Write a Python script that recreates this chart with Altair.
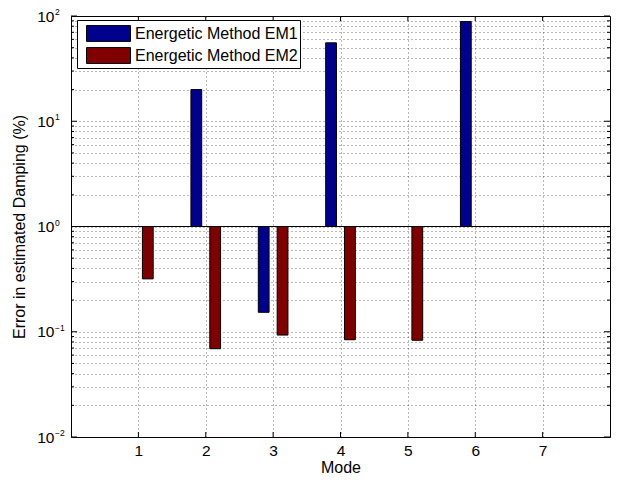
import altair as alt
import pandas as pd
import math

# ---------------- data ----------------
modes = [1, 2, 3, 4, 5, 6, 7]
em1 = [None, 20.0, 0.153, 55.6, None, 88.5, None]
em2 = [0.318, 0.069, 0.093, 0.084, 0.083, None, None]
series_names = ["Energetic Method EM1", "Energetic Method EM2"]
series_colors = ["#00008F", "#800000"]
decades = [-2, -1, 0, 1, 2]
exp_labels = ["\u22122", "\u22121", "0", "1", "2"]
mode_ticks = [1, 2, 3, 4, 5, 6, 7]

rows = []
for name, vals in zip(series_names, [em1, em2]):
    for m, v in zip(modes, vals):
        if v is not None:
            rows.append({"mode": m, "series": name, "value": v})
bars_df = pd.DataFrame(rows)

ygrid_vals = [round(k * 10.0 ** e, 6) for e in decades[:-1] for k in range(1, 10)] + [100.0]
ytick_df = pd.DataFrame({"v": ygrid_vals,
                         "major": [abs(v - 10 ** round(math.log10(v))) < 1e-9 for v in ygrid_vals]})
exp_df = pd.DataFrame({"v": [10.0 ** e for e in decades], "t": exp_labels})
xtick_df = pd.DataFrame({"m": mode_ticks})
base_df = pd.DataFrame({"b": [1.0]})

W, H = 539, 421
FONT = "Liberation Sans"
FS = 15.5
TFS = 16

xscale = alt.Scale(domain=[0, 8], nice=False, zero=False)
yscale = alt.Scale(type="log", domain=[0.01, 100], nice=False)

rect_path = "M-2,-0.72L2,-0.72L2,0.72L-2,0.72Z"

bars = alt.Chart(bars_df).transform_calculate(
    x0="datum.mode + (datum.series == 'Energetic Method EM1' ? -0.22 : 0.06)",
    x1="datum.mode + (datum.series == 'Energetic Method EM1' ? -0.06 : 0.22)",
    base="1",
).mark_rect(stroke="black", strokeWidth=1).encode(
    x=alt.X("x0:Q", scale=xscale,
            axis=alt.Axis(values=mode_ticks, grid=True, gridDash=[1, 3], gridColor="#000",
                          gridOpacity=0.55, ticks=False, domain=False, labelFontSize=FS,
                          labelPadding=6, title="Mode", titleFontSize=TFS, titlePadding=1,
                          format="d")),
    x2="x1:Q",
    y=alt.Y("value:Q", scale=yscale,
            axis=alt.Axis(values=ygrid_vals, grid=True, gridDash=[1, 3], gridColor="#000",
                          gridOpacity=0.55, ticks=False, domain=False, labelFontSize=FS,
                          labelPadding=17, labelOverlap=False,
                          labelExpr="abs(log(datum.value)/LN10 - round(log(datum.value)/LN10)) < 1e-6 ? '10' : ''",
                          title="Error in estimated Damping (%)", titleFontSize=TFS, titlePadding=9)),
    y2="base:Q",
    color=alt.Color("series:N",
                    scale=alt.Scale(domain=series_names, range=series_colors),
                    legend=alt.Legend(title=None, orient="none", legendX=6, legendY=4,
                                      symbolType=rect_path, symbolSize=484,
                                      symbolStrokeColor="black", symbolStrokeWidth=1,
                                      symbolOffset=18, labelOffset=15, labelFontSize=TFS,
                                      labelLimit=400, labelExpr="datum.label + ' '",
                                      fillColor="white", strokeColor="black", padding=2,
                                      rowPadding=0, symbolOpacity=1)),
)

baseline = alt.Chart(base_df).mark_rule(color="black", strokeWidth=1).encode(
    y=alt.Y("b:Q", scale=yscale)
)

yt = alt.Chart(ytick_df)
left_minor = yt.transform_filter("!datum.major").mark_rule(color="black").encode(
    y=alt.Y("v:Q", scale=yscale), x=alt.value(0), x2=alt.value(3))
left_major = yt.transform_filter("datum.major").mark_rule(color="black").encode(
    y=alt.Y("v:Q", scale=yscale), x=alt.value(0), x2=alt.value(6))
right_minor = yt.transform_filter("!datum.major").mark_rule(color="black").encode(
    y=alt.Y("v:Q", scale=yscale), x=alt.value(W), x2=alt.value(W - 3))
right_major = yt.transform_filter("datum.major").mark_rule(color="black").encode(
    y=alt.Y("v:Q", scale=yscale), x=alt.value(W), x2=alt.value(W - 6))

xt = alt.Chart(xtick_df)
bottom_ticks = xt.mark_rule(color="black").encode(
    x=alt.X("m:Q", scale=xscale), y=alt.value(H), y2=alt.value(H - 5))
top_ticks = xt.mark_rule(color="black").encode(
    x=alt.X("m:Q", scale=xscale), y=alt.value(0), y2=alt.value(5))

exps = alt.Chart(exp_df).mark_text(align="left", baseline="middle", dy=-4, fontSize=8.5,
                                    font=FONT, color="black").encode(
    y=alt.Y("v:Q", scale=yscale), x=alt.value(-16), text="t:N")

chart = alt.layer(
    bars, baseline, left_minor, left_major, right_minor, right_major,
    bottom_ticks, top_ticks, exps
).properties(
    width=W, height=H,
    autosize=alt.AutoSizeParams(type="none"),
    padding={"left": 63, "top": 8, "right": 4, "bottom": 39},
).configure(font=FONT).configure_view(
    stroke="black", strokeWidth=1
).configure_axis(
    labelColor="black", titleColor="black", titleFontWeight="normal", labelFont=FONT, titleFont=FONT
).configure_legend(
    labelColor="black", labelFont=FONT
)

chart.save("out.html", embed_options={"renderer": "svg", "actions": False})
